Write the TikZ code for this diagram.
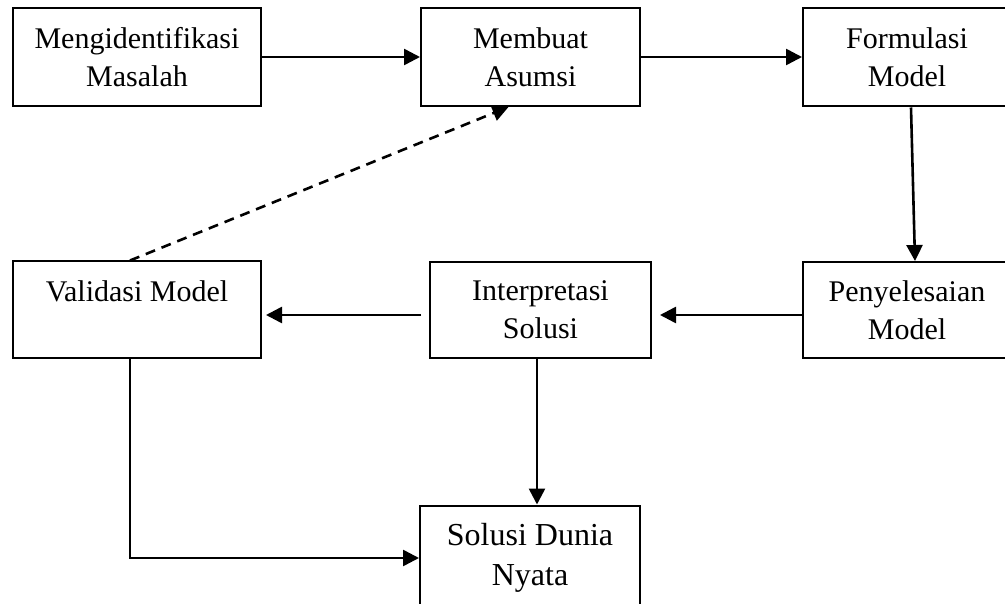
\documentclass[tikz,border=0pt]{standalone}
\usepackage{fontspec}
\setmainfont{Liberation Serif}
\usetikzlibrary{arrows.meta}
\begin{document}
\begin{tikzpicture}[x=1pt,y=-1pt,
  box/.style={draw,line width=2pt,align=center,inner sep=0pt,font=\fontsize{30}{38}\selectfont},
  arr/.style={line width=2.6pt,-{Triangle[length=16pt,width=16pt]}},
  dasharr/.style={arr,dash pattern=on 10pt off 7pt}]
\useasboundingbox (0,0) rectangle (1005,604);
\node[box,minimum width=248pt,minimum height=98pt] (b1) at (137,57) {Mengidentifikasi\\Masalah};
\node[box,minimum width=219pt,minimum height=98pt] (b2) at (530.5,57) {Membuat\\Asumsi};
\node[box,minimum width=208pt,minimum height=98pt] (b3) at (907,57.5) {Formulasi\\Model};
\node[box,minimum width=208pt,minimum height=96pt] (b4) at (907,310) {Penyelesaian\\Model};
\node[box,minimum width=221pt,minimum height=96pt] (b5) at (540.5,310) {Interpretasi\\Solusi};
\node[box,minimum width=248pt,minimum height=97pt] (b6) at (137,310) {Validasi Model\\\mbox{}};
\node[box,minimum width=220pt,minimum height=105pt,font=\fontsize{32}{40}\selectfont] (b7) at (530,558) {Solusi Dunia\\Nyata};
\draw[arr] (b1.east) -- (b2.west);
\draw[arr] (b2.east) -- (b2.east -| b3.west);
\draw[arr] ([xshift=4pt]b3.south) -- ([xshift=8pt]b4.north);
\draw[arr] ([yshift=-5pt]b4.west) -- ([xshift=8pt,yshift=-5pt]b5.east);
\draw[arr] ([xshift=-8pt,yshift=-5pt]b5.west) -- ([xshift=4pt,yshift=-5pt]b6.east);
\draw[dasharr] ([xshift=-7pt]b6.north) -- ([xshift=-22pt]b2.south);
\draw[arr] ([xshift=-3.5pt]b5.south) -- ([xshift=-3.5pt]b5.south |- b7.north);
\draw[arr] ([xshift=-7pt]b6.south) |- (b7.west);
\end{tikzpicture}
\end{document}
